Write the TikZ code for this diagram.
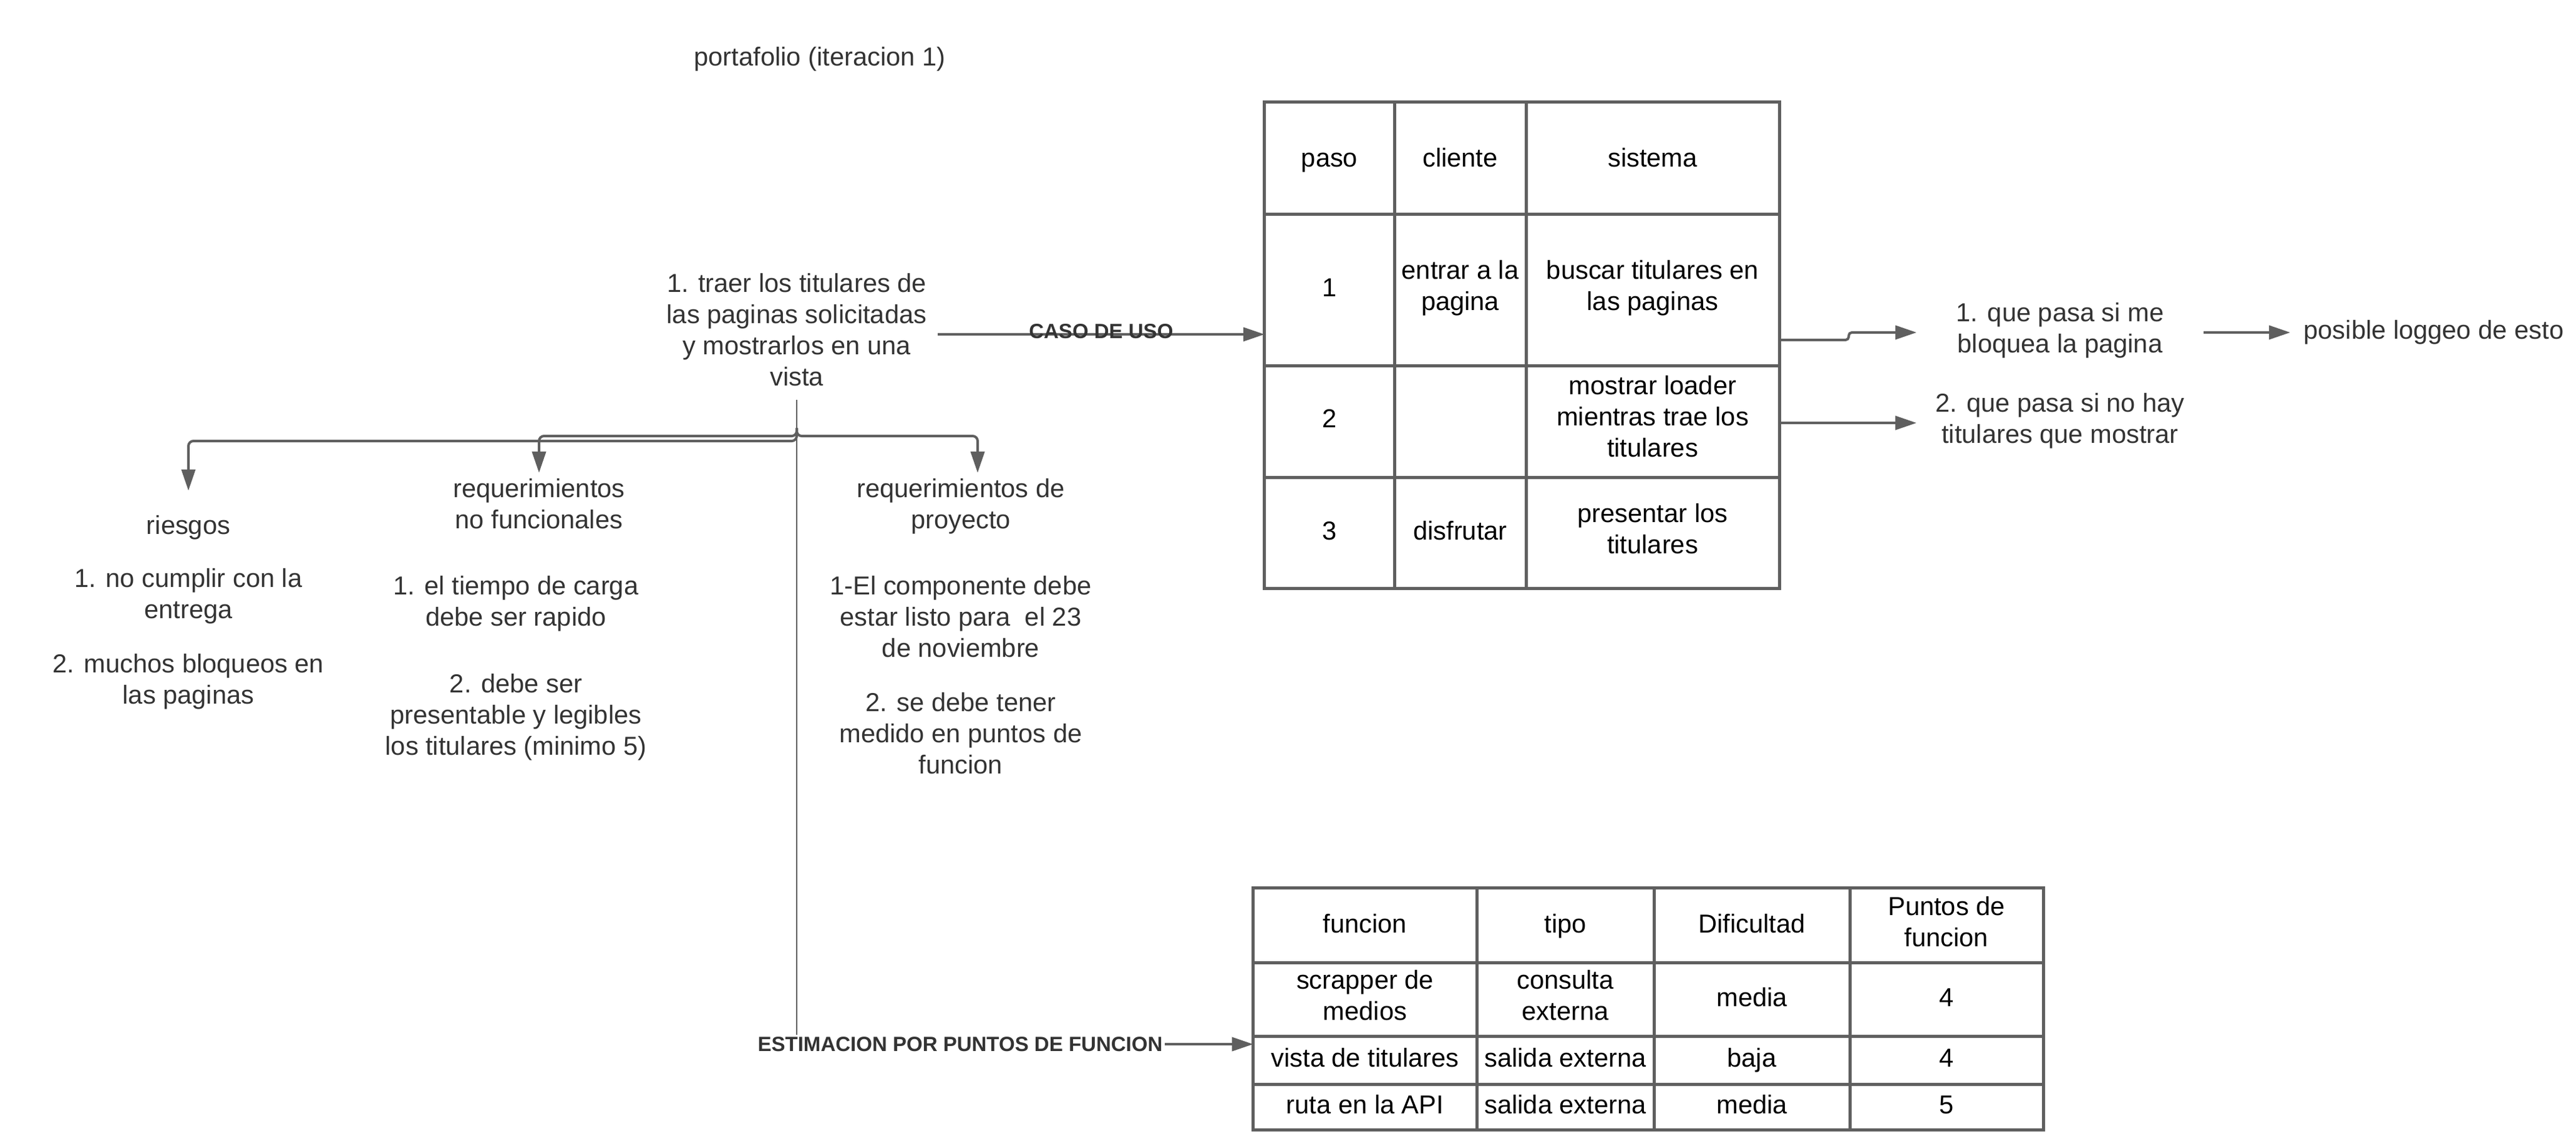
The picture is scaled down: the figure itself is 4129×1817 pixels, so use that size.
\documentclass[tikz,border=0pt]{standalone}
\usepackage{fontspec}
\setmainfont{Liberation Sans}
\usetikzlibrary{arrows.meta,calc}
\definecolor{linec}{HTML}{5F5F5F}
\definecolor{textc}{HTML}{333333}
\tikzset{
 txt/.style={text=textc, align=center, font=\fontsize{11.84pt}{14.23pt}\selectfont,
   execute at begin node=\strut, execute at end node=\strut},
 nudge/.style={yshift=-0.05cm},
 lbl/.style={text=textc, font=\fontsize{9.39pt}{11.3pt}\selectfont\bfseries, inner sep=0.03cm},
 cell/.style={text=black, align=center, font=\fontsize{11.84pt}{14.23pt}\selectfont,
   execute at begin node=\strut, execute at end node=\strut, nudge},
 conn/.style={draw=linec, line width=0.04cm, -{Triangle[length=0.34cm,width=0.22cm]}},
 thinline/.style={draw=linec, line width=0.025cm},
 tbl/.style={draw=linec, line width=0.05cm},
 tblbox/.style={tbl, rectangle, inner sep=0pt, outer sep=0pt},
}
\begin{document}
\begin{tikzpicture}[x=0.01cm,y=-0.01cm]
\useasboundingbox (0,0) rectangle (4129,1817);

% ---------- table 1 (caso de uso) ----------
\node[tblbox, minimum width=8.25cm, minimum height=7.79cm] (t1) at (2439.5,553.5) {};
\draw[tbl] (2235,164) -- (2235,943);
\draw[tbl] (2446,164) -- (2446,943);
\draw[tbl] (2027,343) -- (2852,343);
\draw[tbl] (2027,586) -- (2852,586);
\draw[tbl] (2027,765) -- (2852,765);
\node[cell] (c11) at (2131,252) {paso};
\node[cell] (c12) at (2340.5,252) {cliente};
\node[cell] (c13) at (2649,252) {sistema};
\node[cell] (c21) at (2131,460) {1};
\node[cell] (c22) at (2340.5,460) {entrar a la\\pagina};
\node[cell] (c23) at (2649,460) {buscar titulares en\\las paginas};
\node[cell] (c31) at (2131,670) {2};
\node[cell] (c33) at (2649,670) {mostrar loader\\mientras trae los\\titulares};
\node[cell] (c41) at (2131,850) {3};
\node[cell] (c42) at (2340.5,850) {disfrutar};
\node[cell] (c43) at (2649,850) {presentar los\\titulares};

% ---------- table 2 (puntos de funcion) ----------
\node[tblbox, minimum width=12.66cm, minimum height=3.87cm] (t2) at (2642,1617.5) {};
\draw[tbl] (2367,1424) -- (2367,1811);
\draw[tbl] (2651,1424) -- (2651,1811);
\draw[tbl] (2965,1424) -- (2965,1811);
\draw[tbl] (2009,1543) -- (3275,1543);
\draw[tbl] (2009,1661) -- (3275,1661);
\draw[tbl] (2009,1738) -- (3275,1738);
\node[cell] (d11) at (2188,1480) {funcion};
\node[cell] (d12) at (2509,1480) {tipo};
\node[cell] (d13) at (2808,1480) {Dificultad};
\node[cell] (d14) at (3120,1480) {Puntos de\\funcion};
\node[cell] (d21) at (2188,1598) {scrapper de\\medios};
\node[cell] (d22) at (2509,1598) {consulta\\externa};
\node[cell] (d23) at (2808,1598) {media};
\node[cell] (d24) at (3120,1598) {4};
\node[cell] (d31) at (2188,1695) {vista de titulares};
\node[cell] (d32) at (2509,1695) {salida externa};
\node[cell] (d33) at (2808,1695) {baja};
\node[cell] (d34) at (3120,1695) {4};
\node[cell] (d41) at (2188,1770) {ruta en la API};
\node[cell] (d42) at (2509,1770) {salida externa};
\node[cell] (d43) at (2808,1770) {media};
\node[cell] (d44) at (3120,1770) {5};

% ---------- texts ----------
\node[txt, nudge] (title) at (1314,90) {portafolio (iteracion 1)};
\node[txt, nudge, inner xsep=0.17cm, inner ysep=0.07cm] (main) at (1277,531) {1. traer los titulares de\\las paginas solicitadas\\y mostrarlos en una\\vista};

\node[txt, nudge] (riesgos) at (302,841) {riesgos};
\node[txt, nudge] (r1) at (302,954) {1. no cumplir con la\\entrega};
\node[txt, nudge] (r2) at (302,1091) {2. muchos bloqueos en\\las paginas};
\node[txt, nudge] (nf) at (864,810) {requerimientos\\no funcionales};
\node[txt, nudge] (nf1) at (827,966) {1. el tiempo de carga\\debe ser rapido};
\node[txt, nudge] (nf2) at (827,1148) {2. debe ser\\presentable y legibles\\los titulares (minimo 5)};
\node[txt, nudge] (proj) at (1540,810) {requerimientos de\\proyecto};
\node[txt, nudge] (p1) at (1540,991) {1-El componente debe\\estar listo para\ \ el 23\\de noviembre};
\node[txt, nudge] (p2) at (1540,1178) {2. se debe tener\\medido en puntos de\\funcion};

\node[txt, inner xsep=0.63cm] (q1) at (3302,533) {1. que pasa si me\\bloquea la pagina};
\node[txt, inner xsep=0.295cm] (q2) at (3302,678) {2. que pasa si no hay\\titulares que mostrar};
\node[txt, inner xsep=0.21cm] (pos) at (3901,533) {posible loggeo de esto};

% ---------- connectors ----------
\draw[conn] (main.east) -- node[lbl, yshift=0.05cm] (caso) {CASO DE USO} (main.east -| t1.west);

\coordinate (estc) at ($(main.south |- 0,1674)$);
\draw[thinline] (main.south) -- (estc);
\node[lbl, fill=white] (est) at ($(estc)+(262,0)$) {ESTIMACION POR PUNTOS DE FUNCION};
\draw[conn] (est.east) -- (est.east -| t2.west);

\coordinate (jn) at ($(main.south)+(0,45)$);
\coordinate (busA) at (0,699);
\coordinate (busB) at (0,707);
\coordinate (nftip) at ($(nf.north)+(0,3)$);
\coordinate (ptip) at ($(proj.north)+(27,3)$);
\coordinate (rtip) at ($(riesgos.north)+(0,-22)$);
\draw[conn, rounded corners=0.08cm] (jn) |- (busA -| nftip) -- (nftip);
\draw[conn, rounded corners=0.08cm] (jn) |- (busA -| ptip) -- (ptip);
\draw[conn, rounded corners=0.08cm] (jn) |- (busB -| rtip) -- (rtip);

\draw[conn, rounded corners=0.05cm] ($(t1.east |- q1.west)+(0,12)$) -- ++(111,0) |- (q1.west);
\draw[conn] (t1.east |- q2.west) -- (q2.west);
\draw[conn] (q1.east) -- (q1.east -| pos.west);
\end{tikzpicture}
\end{document}
